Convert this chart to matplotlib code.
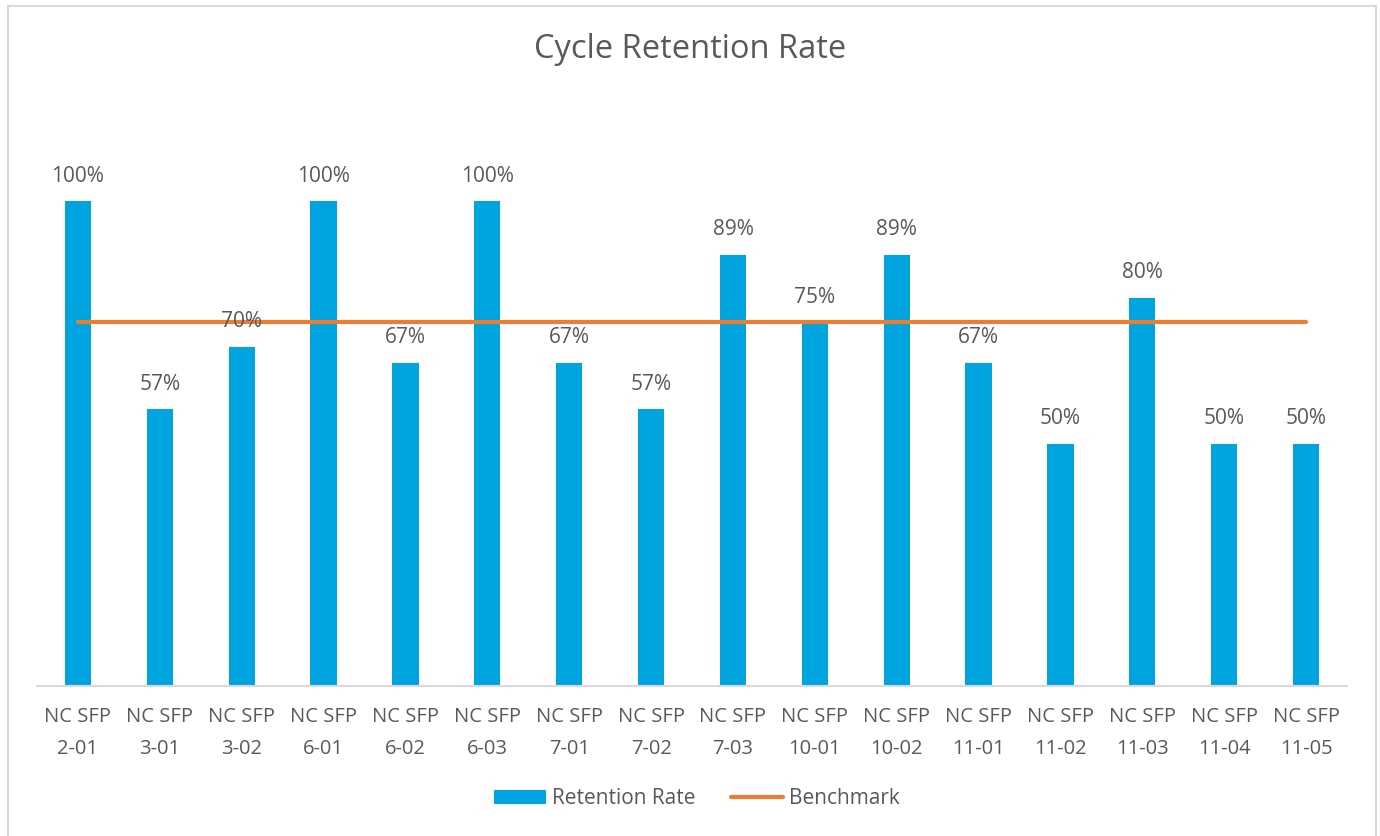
import matplotlib
matplotlib.use("Agg")
import matplotlib.pyplot as plt
from matplotlib.patches import Rectangle
from matplotlib.lines import Line2D
from matplotlib.patches import Patch

categories = ["NC SFP\n2-01", "NC SFP\n3-01", "NC SFP\n3-02", "NC SFP\n6-01",
              "NC SFP\n6-02", "NC SFP\n6-03", "NC SFP\n7-01", "NC SFP\n7-02",
              "NC SFP\n7-03", "NC SFP\n10-01", "NC SFP\n10-02", "NC SFP\n11-01",
              "NC SFP\n11-02", "NC SFP\n11-03", "NC SFP\n11-04", "NC SFP\n11-05"]
retention = [1.00, 0.571, 0.70, 1.00, 0.667, 1.00, 0.667, 0.571,
             0.889, 0.75, 0.889, 0.667, 0.50, 0.80, 0.50, 0.50]
benchmark = [0.75] * len(categories)

plt.rcParams['font.family'] = ['Open Sans', 'DejaVu Sans']
TXT = '#595959'
BAR = '#00A5DF'
LINE = '#ED7D31'

W, H = 1380, 836
fig = plt.figure(figsize=(W / 100, H / 100), dpi=100)

# chart border
fig.patches.append(Rectangle((8 / W, -0.01), (1376 - 8) / W, (H - 6) / H + 0.01,
                             transform=fig.transFigure, fill=False,
                             edgecolor='#D9D9D9', linewidth=1.5))

ax = fig.add_axes([37 / W, (H - 686) / H, (1347 - 37) / W, (686 - 104) / H])
x = list(range(len(categories)))
ax.bar(x, retention, width=0.32, color=BAR, zorder=2)
ax.plot(x, benchmark, color=LINE, linewidth=3, solid_capstyle='round', zorder=3)

for xi, v in zip(x, retention):
    ax.annotate(f"{v:.0%}", (xi, v), xytext=(0, 18), textcoords='offset points',
                ha='center', va='center', fontsize=15, color=TXT, zorder=4)

ax.set_xlim(-0.5, len(categories) - 0.5)
ax.set_ylim(0, 1.2)
ax.set_xticks(x)
ax.set_xticklabels(categories, fontsize=14.5, color=TXT, linespacing=1.8)
ax.tick_params(axis='x', length=0, pad=15)
ax.set_yticks([])
for s in ['top', 'right', 'left']:
    ax.spines[s].set_visible(False)
ax.spines['bottom'].set_color('#D9D9D9')
ax.spines['bottom'].set_linewidth(1.5)

fig.text(0.5, (H - 50) / H, "Cycle Retention Rate", ha='center', va='center',
         fontsize=23.5, color=TXT)

handles = [Patch(facecolor=BAR, edgecolor='none'),
           Line2D([0], [0], color=LINE, linewidth=3, solid_capstyle='round')]
fig.legend(handles, ["Retention Rate", "Benchmark"], loc='center',
           bbox_to_anchor=((W / 2 + 7) / W, (H - 799) / H), ncol=2, frameon=False,
           fontsize=15, labelcolor=TXT, handlelength=2.5, handleheight=0.65,
           columnspacing=1.7, handletextpad=0.3)

fig.savefig("out.png", dpi=100)
